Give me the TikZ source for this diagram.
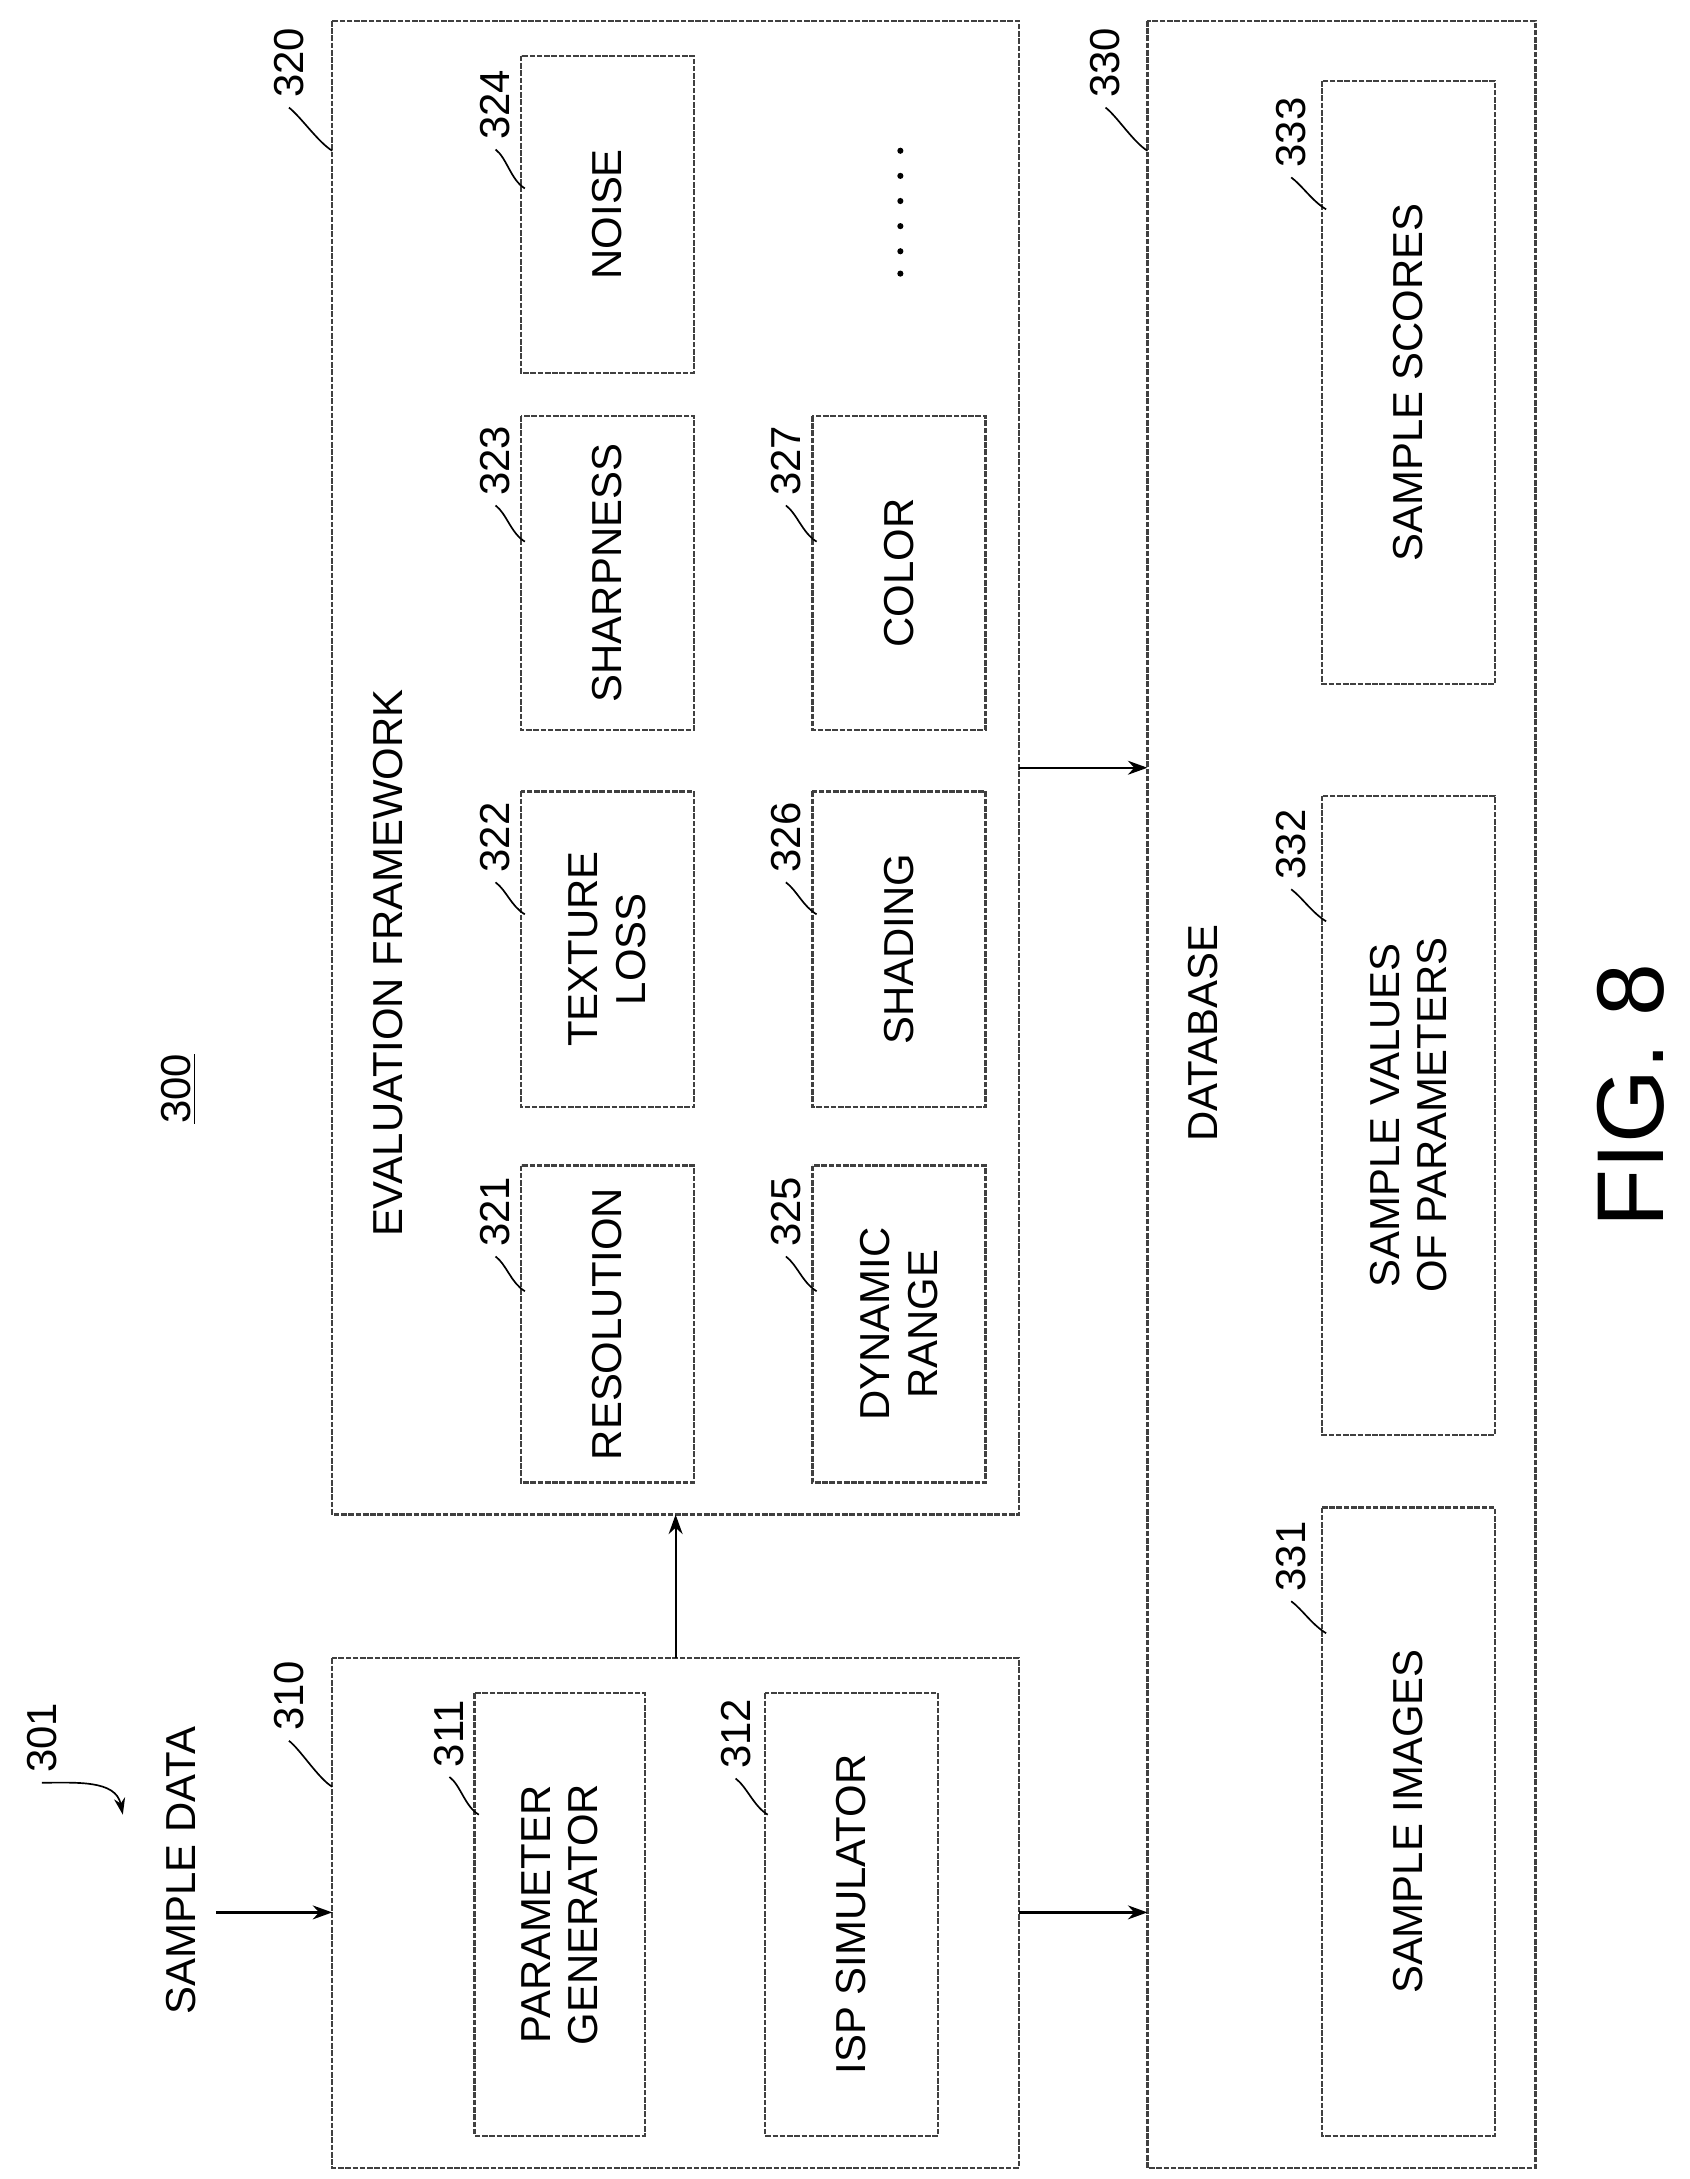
\documentclass[tikz,border=0pt]{standalone}
\usetikzlibrary{arrows.meta}
\usepackage{fontspec}
\setmainfont{Liberation Sans}
\begin{document}
\begin{tikzpicture}[x=0.5pt,y=-0.5pt,
  box/.style={draw=black!75,line width=0.8pt,dashed,dash pattern=on 2pt off 0.6pt},
  txt/.style={rotate=90,align=center,font=\fontsize{15}{17}\selectfont},
  lbl/.style={rotate=90,font=\fontsize{15}{17}\selectfont},
  lead/.style={draw=black,line width=0.6pt},
  arr/.style={draw=black,line width=0.8pt,-{Stealth[length=7pt,width=5pt]}}]
\useasboundingbox (0,0) rectangle (1210,1561);
% containers
\draw[box] (238,1188) rectangle (730,1553);
\draw[box] (238,15) rectangle (730,1085);
\draw[box] (822,15) rectangle (1100,1553);
\coordinate (c310) at (484,1188); \coordinate (c320) at (484,1085);
% inner boxes
\newcommand{\ibox}[6]{\draw[box] (#1,#2) rectangle (#3,#4); \node[txt] (#5) at ({(#1+#3)/2},{(#2+#4)/2}) {#6};}
\ibox{340}{1213}{462}{1530}{b311}{PARAMETER\\GENERATOR}
\ibox{548}{1213}{672}{1530}{b312}{ISP SIMULATOR}
\ibox{373}{835}{497}{1062}{b321}{RESOLUTION}
\ibox{373}{567}{497}{793}{b322}{TEXTURE\\LOSS}
\ibox{373}{298}{497}{523}{b323}{SHARPNESS}
\ibox{373}{40}{497}{267}{b324}{NOISE}
\ibox{582}{835}{706}{1062}{b325}{DYNAMIC\\RANGE}
\ibox{582}{567}{706}{793}{b326}{SHADING}
\ibox{582}{298}{706}{523}{b327}{COLOR}
\ibox{947}{1080}{1071}{1530}{b331}{SAMPLE IMAGES}
\ibox{947}{570}{1071}{1028}{b332}{SAMPLE VALUES\\OF PARAMETERS}
\ibox{947}{58}{1071}{490}{b333}{SAMPLE SCORES}
\foreach \y in {108,126,144,162,180,196} \fill (645,\y) circle (2.2);
% titles
\node[txt] (t320) at (278,690) {EVALUATION FRAMEWORK};
\node[txt] (t330) at (862,740) {DATABASE};
\node[txt] (t300) at (128,780) {\underline{300}};
\node[txt] (sd) at (130,1340) {SAMPLE DATA};
\node[rotate=90,font=\fontsize{34}{38}\selectfont] (fig) at (1168,785) {FIG. 8};
% arrows
\coordinate (s1) at (155,1370); \coordinate (s2) at (238,1370);
\draw[arr] (s1) -- (s2);
\draw[arr] (c310) -- (c320);
\coordinate (a1) at (730,550); \coordinate (a2) at (822,550);
\draw[arr] (a1) -- (a2);
\coordinate (a3) at (730,1370); \coordinate (a4) at (822,1370);
\draw[arr] (a3) -- (a4);
% labels with leaders
\newcommand{\lab}[5]{\node[lbl] (#1) at (#2,#3) {#1}; \coordinate (e#1) at (#4,#5);
  \draw[lead] (#1.west) .. controls ++(8,6) and ++(-10,-6) .. (e#1);}
\lab{310}{207}{1215}{238}{1280}
\lab{320}{207}{45}{238}{108}
\lab{330}{792}{45}{822}{108}
\lab{311}{322}{1242}{343}{1300}
\lab{312}{527}{1242}{550}{1300}
\lab{321}{355}{868}{376}{925}
\lab{322}{355}{600}{376}{655}
\lab{323}{355}{330}{376}{388}
\lab{324}{355}{75}{376}{135}
\lab{325}{563}{868}{585}{925}
\lab{326}{563}{600}{585}{655}
\lab{327}{563}{330}{585}{388}
\lab{331}{925}{1115}{950}{1170}
\lab{332}{925}{605}{950}{660}
\lab{333}{925}{95}{950}{150}
\node[lbl] (l301) at (30,1245) {301};
\coordinate (e301) at (88,1300);
\draw[lead,-{Stealth[length=6pt,width=4pt]}] (l301.west) .. controls ++(25,0) and ++(-5,-25) .. (e301);
\end{tikzpicture}
\end{document}
